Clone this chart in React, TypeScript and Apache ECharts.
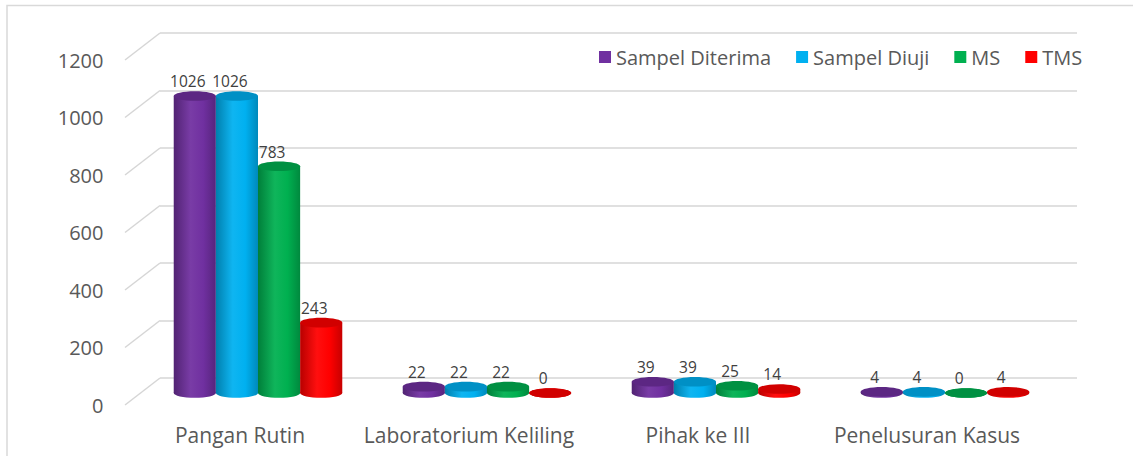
import React, { useEffect, useRef } from "react";
import * as echarts from "echarts";

const categories = ["Pangan Rutin", "Laboratorium Keliling", "Pihak ke III", "Penelusuran Kasus"];
const seriesNames = ["Sampel Diterima", "Sampel Diuji", "MS", "TMS"];
const sampelDiterima = [1026, 22, 39, 4];
const sampelDiuji = [1026, 22, 39, 4];
const ms = [783, 22, 25, 0];
const tms = [243, 0, 14, 4];
const seriesValues = [sampelDiterima, sampelDiuji, ms, tms];
const yTicks = [0, 200, 400, 600, 800, 1000, 1200];
const seriesColors = ["#7030A0", "#00B0F0", "#00B050", "#FF0000"];

const FONT = '"Open Sans", "Liberation Sans", sans-serif';
const GRID_COLOR = "#d6d6d6";

function shade(hex: string, f: number): string {
  const n = parseInt(hex.slice(1), 16);
  let r = (n >> 16) & 255, g = (n >> 8) & 255, b = n & 255;
  const adj = (c: number) => {
    if (f <= 1) return Math.round(c * f);
    return Math.round(c + (255 - c) * (f - 1));
  };
  r = Math.min(255, adj(r)); g = Math.min(255, adj(g)); b = Math.min(255, adj(b));
  return "#" + [r, g, b].map((v) => v.toString(16).padStart(2, "0")).join("");
}

function cylinderRenderer(k: number) {
  return (params: any, api: any) => {
    const cat = api.value(0);
    const val = api.value(1);
    const base = api.coord([cat, 0]);
    const top = api.coord([cat, val]);
    const band = api.size([1, 0])[0];
    const w = band * 0.184;
    const r = w / 2;
    const ry = 4.8;
    const cx = base[0] + (k - 1.5) * w;
    const yB = base[1];
    const yT = top[1];
    const c = seriesColors[k];
    const grad = new echarts.graphic.LinearGradient(0, 0, 1, 0, [
      { offset: 0, color: shade(c, 0.72) },
      { offset: 0.4, color: shade(c, 1.06) },
      { offset: 0.7, color: c },
      { offset: 1, color: shade(c, 0.78) },
    ]);
    return {
      type: "group",
      children: [
        { type: "ellipse", shape: { cx, cy: yB, rx: r, ry }, style: { fill: grad } },
        { type: "rect", shape: { x: cx - r, y: yT, width: w, height: Math.max(0, yB - yT) }, style: { fill: grad } },
        { type: "ellipse", shape: { cx, cy: yT, rx: r, ry }, style: { fill: shade(c, 0.82) } },
        {
          type: "text",
          x: cx - 7,
          y: yT - ry - 2,
          style: {
            text: String(val),
            fill: "#404040",
            fontSize: 15.5,
            fontFamily: FONT,
            align: "center",
            verticalAlign: "bottom",
          },
        },
      ],
    };
  };
}

export default function App() {
  const ref = useRef<HTMLDivElement>(null);
  useEffect(() => {
    if (!ref.current) return;
    const chart = echarts.init(ref.current, undefined, { renderer: "svg" });
    const option: any = {
      animation: false,
      backgroundColor: "#ffffff",
      textStyle: { fontFamily: FONT },
      graphic: [
        {
          type: "rect",
          shape: { x: 7, y: 5.5, width: 1200, height: 500 },
          style: { fill: "none", stroke: "#d9d9d9", lineWidth: 1.5 },
          silent: true,
        },
      ],
      legend: {
        data: seriesNames,
        left: 594,
        top: 42,
        icon: "rect",
        itemWidth: 12,
        itemHeight: 12,
        itemGap: 25,
        textStyle: { fontSize: 20, color: "#595959", fontFamily: FONT },
      },
      grid: [
        { left: 160, right: 56, top: 33, bottom: 78 },
        { left: 125.5, right: 91.5, top: 60, bottom: 51 },
        { left: 143.5, right: 73.5, top: 45.6, bottom: 63 },
      ],
      xAxis: [
        { gridIndex: 0, type: "category", data: categories, show: false },
        {
          gridIndex: 1,
          type: "category",
          data: categories,
          axisLine: { show: false },
          axisTick: { show: false },
          axisLabel: { fontSize: 21, color: "#595959", margin: 19, fontFamily: FONT, interval: 0 },
        },
        { gridIndex: 2, type: "category", data: categories, show: false },
      ],
      yAxis: [
        {
          gridIndex: 0,
          type: "value",
          min: 0,
          max: 1200,
          interval: 200,
          axisLabel: { show: false },
          axisLine: { show: false },
          axisTick: { show: false },
          splitLine: { show: true, lineStyle: { color: GRID_COLOR, width: 1.5 } },
        },
        {
          gridIndex: 1,
          type: "value",
          min: 0,
          max: 1200,
          interval: 200,
          axisLine: { show: false },
          axisTick: { show: false },
          splitLine: { show: false },
          axisLabel: {
            fontSize: 20,
            color: "#595959",
            margin: 22,
            fontFamily: FONT,
            formatter: (v: number) => String(v),
          },
        },
        { gridIndex: 2, type: "value", min: 0, max: 1200, interval: 200, show: false, splitLine: { show: false } },
      ],
      series: [
        {
          type: "custom",
          name: "ticks",
          xAxisIndex: 0,
          yAxisIndex: 0,
          silent: true,
          data: yTicks.map((v) => [0, v]),
          renderItem: (params: any, api: any) => {
            const y = api.coord([0, api.value(1)])[1];
            const x = params.coordSys.x;
            return {
              type: "line",
              shape: { x1: x - 35, y1: y + 27, x2: x, y2: y },
              style: { stroke: GRID_COLOR, lineWidth: 1.5 },
            };
          },
        },
        ...seriesNames.map((name, k) => ({
          type: "custom",
          name,
          xAxisIndex: 2,
          yAxisIndex: 2,
          itemStyle: { color: seriesColors[k] },
          data: seriesValues[k].map((v, i) => [i, v]),
          renderItem: cylinderRenderer(k),
        })),
      ],
    };
    chart.setOption(option);
    return () => chart.dispose();
  }, []);
  return <div ref={ref} style={{ position: "absolute", left: 0, top: 0, width: 1133, height: 456 }} />;
}
